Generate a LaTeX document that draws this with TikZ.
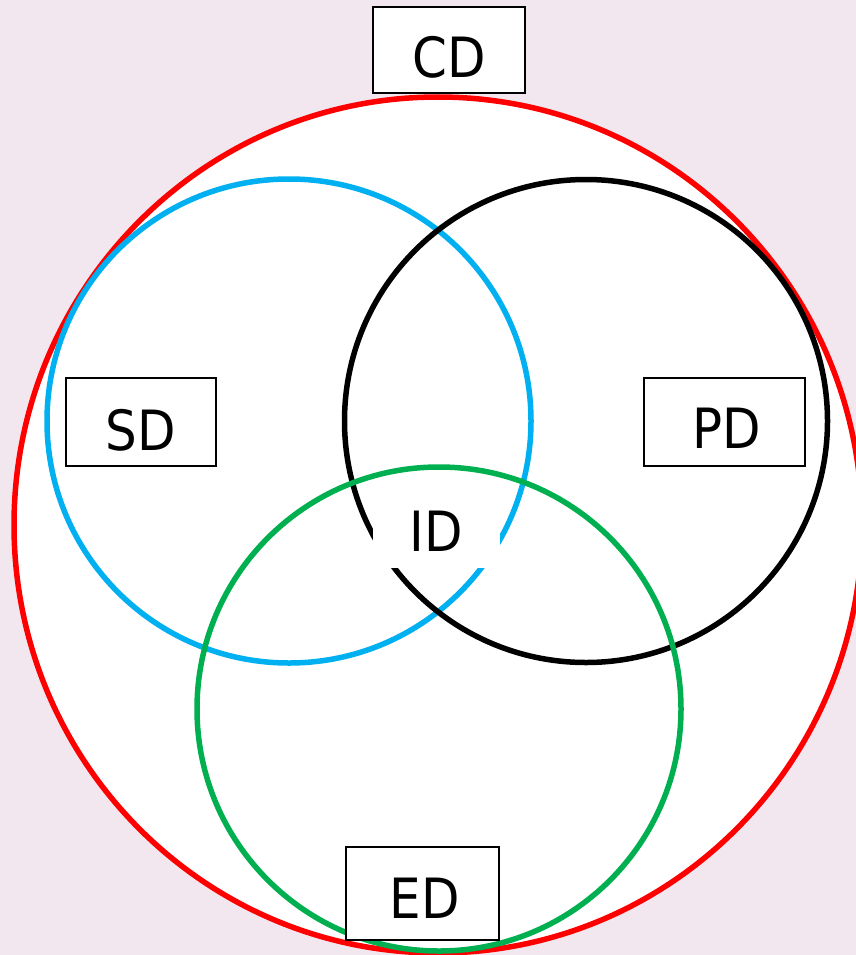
\documentclass[tikz,border=0pt]{standalone}
\usepackage{fontspec}
\usetikzlibrary{shapes.geometric}
\setmainfont{DejaVu Sans Condensed}
\definecolor{bgpink}{RGB}{243,231,239}
\definecolor{cred}{RGB}{255,0,0}
\definecolor{cblue}{RGB}{0,176,240}
\definecolor{cgreen}{RGB}{0,176,80}
\tikzset{
  ring/.style={line width=5.5pt, inner sep=0pt},
  labbox/.style={draw=black, line width=2.8pt, fill=white, rectangle, inner sep=0pt,
    font=\fontsize{55.5}{60}\selectfont, text depth=0pt},
}
\begin{document}
\begin{tikzpicture}[x=1pt,y=-1pt]
\useasboundingbox (0,0) rectangle (856,955);
\clip (0,0) rectangle (856,955);
\fill[bgpink] (0,0) rectangle (856,955);
% circles
\node[ellipse, draw=cred, fill=white, ring, minimum width=848pt, minimum height=856pt] (cd) at (438,525) {};
\node[circle, draw=cblue, ring, minimum size=484pt] (sd) at (289,421) {};
\node[circle, draw=black, ring, minimum size=483pt] (pd) at (586,421) {};
\node[circle, draw=cgreen, ring, minimum size=484pt] (ed) at (439,709) {};
% labels
\node[labbox, minimum width=152pt, minimum height=86pt, text height=56pt] (cdl) at (449,50) {\hspace*{1pt}CD};
\node[labbox, minimum width=150pt, minimum height=88pt, text height=56pt] (sdl) at (141,422) {SD};
\node[labbox, minimum width=161pt, minimum height=88pt, text height=53pt] (pdl) at (724.5,422) {\hspace*{4pt}PD};
\node[labbox, minimum width=153pt, minimum height=93pt, text height=50pt] (edl) at (422.5,893.5) {\hspace*{4pt}ED};
\node[fill=white, inner sep=0pt, minimum width=127pt, minimum height=74pt,
  font=\fontsize{55.5}{60}\selectfont] (idl) at (436.5,531) {ID};
\end{tikzpicture}
\end{document}
